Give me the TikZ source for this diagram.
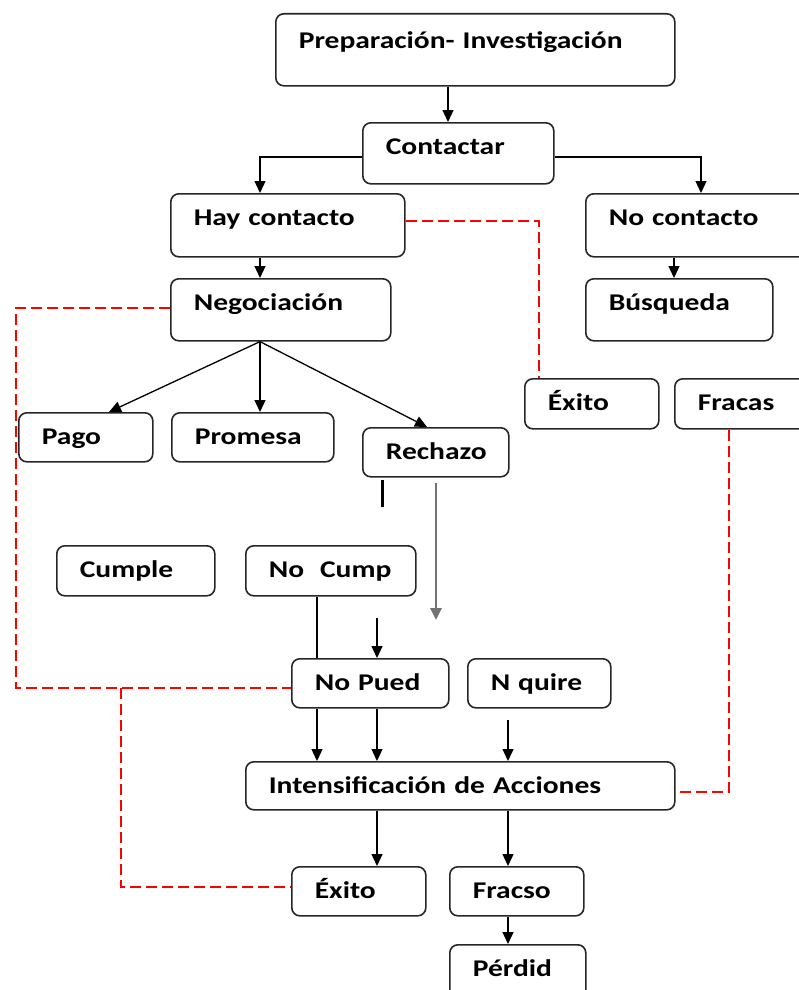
\documentclass[tikz,border=0pt]{standalone}
\usepackage{fontspec}
\setmainfont{Carlito}[FakeStretch=1.23]
\usetikzlibrary{arrows.meta}

\begin{document}
\begin{tikzpicture}[x=1pt,y=-1pt]
    \tikzstyle{every node}=[draw=black!85, line width=1.6pt, rounded corners=8pt, anchor=north west, align=left, inner xsep=23pt, inner ysep=0pt, text height=32pt, font=\fontsize{24}{28}\selectfont\bfseries, text=black]
    \tikzset{dims/.style 2 args={minimum width=#1pt, minimum height=#2pt, text width=#1pt-46pt, text depth=#2pt-32pt}}
    \tikzstyle{edge}=[black, line width=1.3pt, -{Triangle[length=12pt, width=11pt]}]
    \tikzstyle{link}=[red, line width=1.5pt, dash pattern=on 11pt off 5pt]

    \useasboundingbox (0,0) rectangle (798,990);

    \node[dims={399}{72}, text height=35pt, text depth=37pt] (prep) at (275,13) {Preparación- Investigación};
    \node[dims={191}{61}] (cont) at (362,122) {Contactar};
    \node[dims={234}{63}] (hay) at (170,193) {Hay contacto};
    \node[dims={232}{63}] (noc) at (585,193) {No contacto};
    \node[dims={220}{62}] (neg) at (170,278) {Negociación};
    \node[dims={187}{62}] (busq) at (585,278) {Búsqueda};
    \node[dims={134}{49}] (pago) at (18,412) {Pago};
    \node[dims={162}{49}] (prom) at (171,412) {Promesa};
    \node[dims={146}{49}] (rech) at (362,427) {Rechazo};
    \node[dims={134}{50}] (exito1) at (524,378) {Éxito};
    \node[dims={140}{50}] (fracas) at (674,378) {Fracas};
    \node[dims={158}{50}] (cumple) at (56,545) {Cumple};
    \node[dims={170}{50}] (nocump) at (245,545) {No~~Cump};
    \node[dims={157}{49}] (nopued) at (291,658) {No Pued};
    \node[dims={143}{49}] (nquire) at (467,658) {N quire};
    \node[dims={429}{48}] (intens) at (245,761) {Intensificación de Acciones};
    \node[dims={134}{49}] (exito2) at (291,866) {Éxito};
    \node[dims={134}{49}] (fracso) at (449,866) {Fracso};
    \node[dims={136}{60}] (perdid) at (449,944) {Pérdid};

    \coordinate (tick1) at (382,480);
    \coordinate (tick2) at (382,507);
    \coordinate (gray1) at (436,483);
    \coordinate (gray2) at (436,620);
    \coordinate (in1) at (377,618);
    \coordinate (in2) at (508,720);
    \coordinate (fork) at (121,688);

    \draw[edge] (448,0 |- prep.south) -- (448,0 |- cont.north);
    \draw[edge] (cont.west |- 0,157) -| (260,0 |- hay.north);
    \draw[edge] (cont.east |- 0,157) -| (701,0 |- noc.north);
    \draw[edge] (260,0 |- hay.south) -- (260,0 |- neg.north);
    \draw[edge] (674,0 |- noc.south) -- (674,0 |- busq.north);
    \draw[edge] (260,0 |- neg.south) -- (109,0 |- pago.north);
    \draw[edge] (260,0 |- neg.south) -- (260,0 |- prom.north);
    \draw[edge] (260,0 |- neg.south) -- (427,0 |- rech.north);

    \draw[line width=3pt] (tick1) -- (tick2);
    \draw[edge, black!55, line width=2.8pt] (gray1) -- (gray2);

    \draw[black, line width=1.3pt] (317,0 |- nocump.south) -- (317,0 |- nopued.north);
    \draw[edge] (in1) -- (377,0 |- nopued.north);
    \draw[edge] (317,0 |- nopued.south) -- (317,0 |- intens.north);
    \draw[edge] (377,0 |- nopued.south) -- (377,0 |- intens.north);
    \draw[edge] (in2) -- (508,0 |- intens.north);
    \draw[edge] (377,0 |- intens.south) -- (377,0 |- exito2.north);
    \draw[edge] (508,0 |- intens.south) -- (508,0 |- fracso.north);
    \draw[edge] (508,0 |- fracso.south) -- (508,0 |- perdid.north);

    \draw[link] (hay.east |- 0,221) -| (539,0 |- exito1.north);
    \draw[link] (neg.west |- 0,308) -| (16,0 |- fork) -- (nopued.west |- fork);
    \draw[link] (fork) |- (exito2.west |- 0,887);
    \draw[link] (729,0 |- fracas.south) |- (intens.east |- 0,792);
\end{tikzpicture}
\end{document}
